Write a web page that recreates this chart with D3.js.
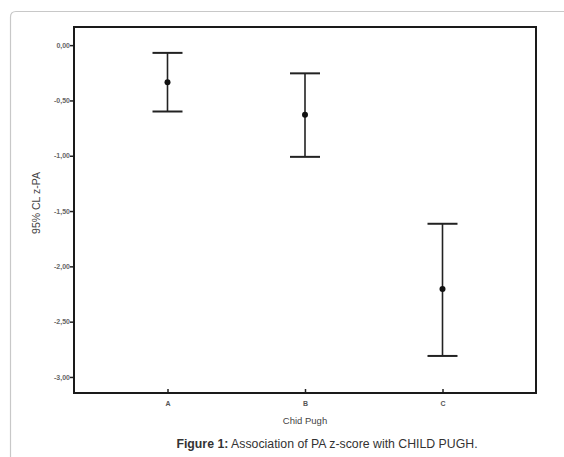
<!DOCTYPE html>
<html>
<head>
<meta charset="utf-8">
<script src="https://cdn.jsdelivr.net/npm/d3@7"></script>
<style>
  body { margin: 0; background: #fff; }
  #canvas { width: 564px; height: 457px; }
</style>
</head>
<body>
<div id="canvas"></div>
<script>
var canvasWidth = 564,
    canvasHeight = 457;

// data
var groups = ['A', 'B', 'C'];
var means = [-0.335, -0.63, -2.205];
var upper = [-0.07, -0.255, -1.615];
var lower = [-0.60, -1.01, -2.81];
var yTicks = [0, -0.5, -1, -1.5, -2, -2.5, -3];

var margin = {t:27, r:28, b:64, l:74};
var plotWidth = canvasWidth - margin.l - margin.r,
    plotHeight = canvasHeight - margin.t - margin.b;

var svg = d3.select('#canvas')
    .append('svg')
    .attr('width', canvasWidth)
    .attr('height', canvasHeight);

// card outline
svg.append('path')
    .attr('d', 'M10.5,470 L10.5,17 Q10.5,11.5 16,11.5 L580,11.5')
    .style('fill', 'none')
    .style('stroke', '#c8c8c8')
    .style('stroke-width', 1.2);

var plot = svg.append('g')
    .attr('transform', 'translate('+margin.l+','+margin.t+')');

var x = d3.scalePoint()
    .domain(groups)
    .range([0, plotWidth])
    .padding(0.68);

var y = d3.scaleLinear()
    .domain([0.164, -3.145])
    .range([0, plotHeight]);

var fmt = function(d){ return d3.format('.2f')(d).replace('.', ',').replace('−', '-'); };

var yAxis = plot.append('g')
    .call(d3.axisLeft(y).tickValues(yTicks).tickSize(4).tickSizeOuter(0).tickFormat(fmt));
yAxis.select('.domain').remove();
yAxis.selectAll('line').style('stroke', '#222').style('stroke-width', 1.5);
yAxis.selectAll('text')
    .attr('x', -4)
    .style('font-family', 'Arial, "Liberation Sans", sans-serif')
    .style('font-size', '7px')
    .style('font-weight', 'bold')
    .style('fill', '#666');

var xAxis = plot.append('g')
    .attr('transform', 'translate(0,'+plotHeight+')')
    .call(d3.axisBottom(x).tickSize(4).tickSizeOuter(0));
xAxis.select('.domain').remove();
xAxis.selectAll('line').attr('y2', -4).style('stroke', '#222').style('stroke-width', 1.5);
xAxis.selectAll('text')
    .attr('y', 8)
    .style('font-family', 'Arial, "Liberation Sans", sans-serif')
    .style('font-size', '7px')
    .style('font-weight', 'bold')
    .style('fill', '#555');

// frame
plot.append('rect')
    .attr('x', 0)
    .attr('y', 0)
    .attr('width', plotWidth)
    .attr('height', plotHeight)
    .style('fill', 'none')
    .style('stroke', '#1a1a1a')
    .style('stroke-width', 2);

// error bars
var capW = 15;
var bars = plot.selectAll('.bar')
    .data(groups)
    .enter().append('g')
    .attr('class', 'bar');

bars.append('line')
    .attr('x1', function(d){ return x(d); })
    .attr('x2', function(d){ return x(d); })
    .attr('y1', function(d, i){ return y(upper[i]); })
    .attr('y2', function(d, i){ return y(lower[i]); })
    .style('stroke', '#222')
    .style('stroke-width', 1.6);

bars.append('line')
    .attr('x1', function(d){ return x(d) - capW; })
    .attr('x2', function(d){ return x(d) + capW; })
    .attr('y1', function(d, i){ return y(upper[i]); })
    .attr('y2', function(d, i){ return y(upper[i]); })
    .style('stroke', '#222')
    .style('stroke-width', 2);

bars.append('line')
    .attr('x1', function(d){ return x(d) - capW; })
    .attr('x2', function(d){ return x(d) + capW; })
    .attr('y1', function(d, i){ return y(lower[i]); })
    .attr('y2', function(d, i){ return y(lower[i]); })
    .style('stroke', '#222')
    .style('stroke-width', 2);

bars.append('circle')
    .attr('cx', function(d){ return x(d); })
    .attr('cy', function(d, i){ return y(means[i]); })
    .attr('r', 3)
    .style('fill', '#111');

// axis titles
svg.append('text')
    .attr('transform', 'translate(40,203) rotate(-90)')
    .attr('text-anchor', 'middle')
    .style('font-family', 'Arial, "Liberation Sans", sans-serif')
    .style('font-size', '10.5px')
    .style('fill', '#444')
    .text('95% CL z-PA');

svg.append('text')
    .attr('x', margin.l + x('B'))
    .attr('y', 424)
    .attr('text-anchor', 'middle')
    .style('font-family', 'Arial, "Liberation Sans", sans-serif')
    .style('font-size', '9.5px')
    .style('fill', '#444')
    .text('Chid Pugh');

var cap = svg.append('text')
    .attr('x', 327)
    .attr('y', 448)
    .attr('text-anchor', 'middle')
    .style('font-family', 'Arial, "Liberation Sans", sans-serif')
    .style('font-size', '12.3px')
    .style('fill', '#333');
cap.append('tspan').style('font-weight', 'bold').text('Figure 1:');
cap.append('tspan').text(' Association of PA z-score with CHILD PUGH.');
</script>
</body>
</html>
